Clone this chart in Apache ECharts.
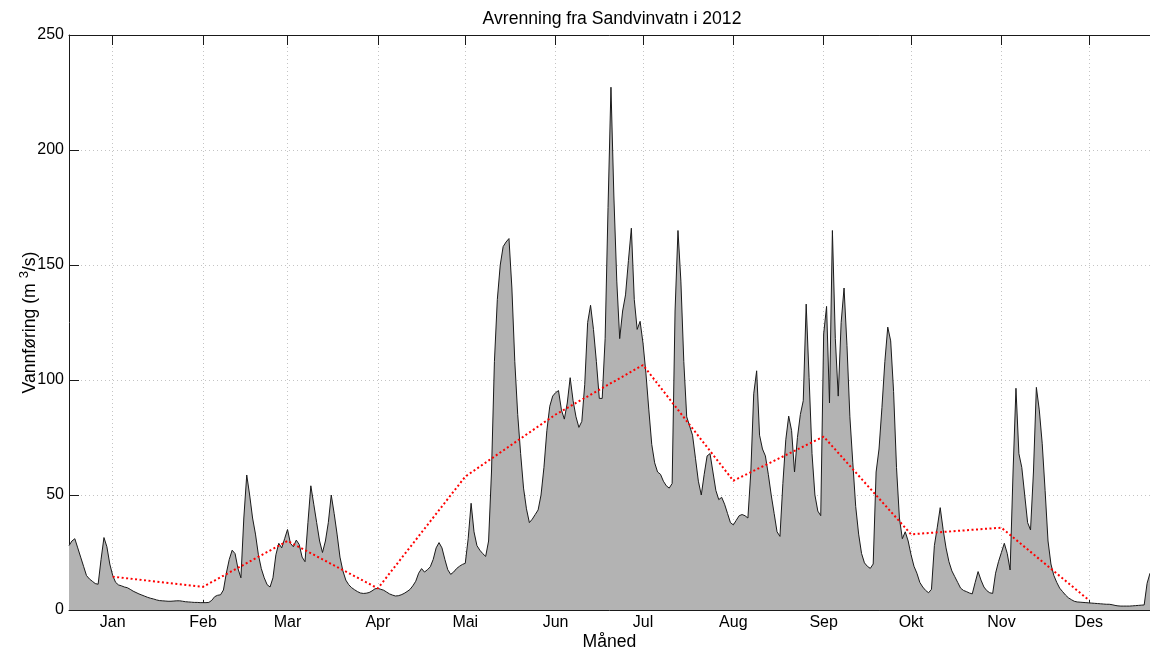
<!DOCTYPE html>
<html>
<head>
<meta charset="utf-8">
<title>Avrenning fra Sandvinvatn i 2012</title>
<script src="https://cdn.jsdelivr.net/npm/echarts@6.0.0/dist/echarts.min.js"></script>
<style>
  html, body { margin: 0; padding: 0; background: #ffffff; }
  #chart { width: 1150px; height: 650px; }
</style>
</head>
<body>
<div id="chart"></div>
<script>
// Daily discharge (m3/s), index = day of year (0 = 31 Dec 2011)
const vannforing = [
  28, 30, 31, 27, 23, 19, 15, 13.5, 12.5, 11.5,
  11.2, 22, 31.5, 27.5, 20, 15, 12, 10.9, 10.5, 10,
  9.7, 9, 8.2, 7.6, 7, 6.5, 6, 5.5, 5.1, 4.8,
  4.4, 4.1, 4, 3.9, 3.8, 3.8, 3.9, 4, 4, 3.8,
  3.6, 3.5, 3.4, 3.3, 3.3, 3.2, 3.2, 3.2, 3.3, 4.2,
  5.8, 6.4, 6.6, 8.7, 16, 22, 26, 24.5, 18, 14,
  40, 58.7, 50, 40, 33, 24, 18, 14, 11, 10,
  14, 24, 29, 27, 31, 35, 29, 27.5, 30.4, 28.5,
  23, 21, 38, 54, 46, 38, 30, 25, 30, 38,
  50, 42, 33, 23, 17, 13, 11, 9.7, 8.8, 8,
  7.4, 7.2, 7.3, 7.6, 8.3, 9.2, 9.4, 9, 8.6, 7.8,
  7, 6.5, 6.1, 6.2, 6.6, 7.2, 8, 8.9, 10.5, 12.5,
  16, 18, 16.5, 17.5, 18.8, 22, 27, 29.3, 27, 22,
  17.5, 15.5, 16.5, 18, 19, 19.8, 20.3, 31, 46.4, 34,
  28, 26, 24.5, 23.3, 30, 60, 108, 135, 150, 158,
  160, 161.5, 140, 108, 85, 68, 53, 44, 38, 39.5,
  41.5, 43.5, 50, 62, 78, 88.6, 93, 94.5, 95.4, 87,
  83, 90, 101, 91, 84, 79.4, 82, 98, 125, 132.5,
  122, 108, 92, 92, 118, 175, 227.3, 180, 143, 118,
  130, 137, 152, 166, 135, 122, 125.5, 116, 103, 87,
  72, 64, 60, 59, 56, 54, 53, 55, 130, 165,
  143, 108, 84, 80, 76, 66, 56, 50, 59, 67,
  68, 60, 52, 48, 49, 46, 42, 38, 37, 39,
  41, 41.5, 41, 40, 60, 94, 104, 76, 70, 67,
  59, 50, 42, 34, 32, 55, 74, 84.3, 78, 60,
  75, 85, 91, 133, 101, 68, 50, 43, 41, 120,
  132, 90, 165, 118, 93, 125, 140, 115, 84, 64,
  45, 33, 24.6, 20.5, 19, 18.1, 20, 60, 70, 88,
  108, 123, 117, 95, 62, 40, 31, 34, 30, 24,
  19, 16, 12, 10, 8.5, 7.5, 9, 28, 36, 44.5,
  35, 27, 21, 17, 14.5, 12, 9.5, 8.5, 8, 7.4,
  7, 12, 16.7, 13, 10, 8.4, 7.5, 7.2, 16, 21,
  25, 29, 24.6, 17.4, 60, 96.4, 68, 62, 50, 38,
  34.8, 60, 96.8, 87, 72.5, 52, 30, 20, 15, 12,
  9.5, 8, 6.5, 5.3, 4.5, 3.8, 3.5, 3.4, 3.3, 3.2,
  3.1, 3, 2.9, 2.8, 2.7, 2.6, 2.5, 2.5, 2.3, 2,
  1.8, 1.7, 1.7, 1.7, 1.7, 1.8, 1.9, 2, 2.1, 2.2,
  11.6, 16
];

// Month labels, placed on the 15th of each month (day of year)
const maaneder = ['Jan', 'Feb', 'Mar', 'Apr', 'Mai', 'Jun', 'Jul', 'Aug', 'Sep', 'Okt', 'Nov', 'Des'];
const midtdager = [15, 46, 75, 106, 136, 167, 197, 228, 259, 289, 320, 350];

// Monthly mean discharge (m3/s)
const maanedsmiddel = [14.5, 10.1, 30, 9.4, 58, 85, 106.5, 56.2, 75.4, 32.9, 35.8, 4.3];

const yMin = 0, yMax = 250, yStep = 50;
const dagFra = 0, dagTil = 371;

const font = 'Liberation Sans, Arial, Helvetica, sans-serif';
const tickFont = 16;
const labelFont = 17.6;
const axisColor = '#1a1a1a';
const gridLine = { show: true, lineStyle: { color: '#c4c4c4', width: 1, type: [1, 3] } };

const chart = echarts.init(document.getElementById('chart'), null, { renderer: 'canvas' });

chart.setOption({
  animation: false,
  backgroundColor: '#ffffff',
  title: {
    text: 'Avrenning fra Sandvinvatn i 2012',
    left: 607,
    top: 5,
    textAlign: 'center',
    textStyle: { fontFamily: font, fontSize: labelFont, fontWeight: 'normal', color: '#000' }
  },
  grid: { left: 69, right: 0, top: 35, bottom: 40, containLabel: false, outerBoundsMode: 'none' },
  xAxis: [
    {
      type: 'value',
      min: dagFra,
      max: dagTil,
      position: 'bottom',
      name: 'Måned',
      nameLocation: 'middle',
      nameGap: 23,
      nameMoveOverlap: false,
      nameTextStyle: { fontFamily: font, fontSize: labelFont, color: '#000' },
      axisLine: { show: true, onZero: false, lineStyle: { color: axisColor, width: 1 } },
      axisTick: { show: true, inside: true, length: 10, customValues: midtdager, lineStyle: { color: axisColor } },
      axisLabel: {
        customValues: midtdager,
        formatter: v => maaneder[midtdager.indexOf(v)] || '',
        fontFamily: font, fontSize: tickFont, color: '#000', margin: 5
      },
      splitLine: gridLine
    },
    {
      type: 'value',
      min: dagFra,
      max: dagTil,
      position: 'top',
      axisLine: { show: true, onZero: false, lineStyle: { color: axisColor, width: 1 } },
      axisTick: { show: true, inside: true, length: 10, customValues: midtdager, lineStyle: { color: axisColor } },
      axisLabel: { show: false },
      splitLine: { show: false }
    }
  ],
  yAxis: {
    type: 'value',
    min: yMin,
    max: yMax,
    interval: yStep,
    name: 'Vannføring (m {sup|3}/s)',
    nameLocation: 'middle',
    nameRotate: 90,
    nameGap: 27,
    nameMoveOverlap: false,
    nameTextStyle: {
      fontFamily: font, fontSize: labelFont, color: '#000',
      rich: { sup: { fontFamily: font, fontSize: 13, color: '#000', verticalAlign: 'top', lineHeight: 24 } }
    },
    axisLine: { show: true, onZero: false, lineStyle: { color: axisColor, width: 1 } },
    axisTick: { show: true, inside: true, length: 10, lineStyle: { color: axisColor } },
    axisLabel: { fontFamily: font, fontSize: tickFont, color: '#000', margin: 5 },
    splitLine: gridLine
  },
  series: [
    {
      name: 'Vannføring',
      type: 'line',
      xAxisIndex: 0,
      data: vannforing.map((v, i) => [dagFra + i, v]),
      symbol: 'none',
      lineStyle: { color: '#1a1a1a', width: 1 },
      areaStyle: { color: '#b3b3b3', opacity: 1 },
      z: 2
    },
    {
      name: 'Månedsmiddel',
      type: 'line',
      xAxisIndex: 0,
      data: midtdager.map((d, i) => [d, maanedsmiddel[i]]),
      symbol: 'none',
      lineStyle: { color: '#ff0000', width: 2, type: [2, 2.5] },
      z: 3
    }
  ]
});
</script>
</body>
</html>
